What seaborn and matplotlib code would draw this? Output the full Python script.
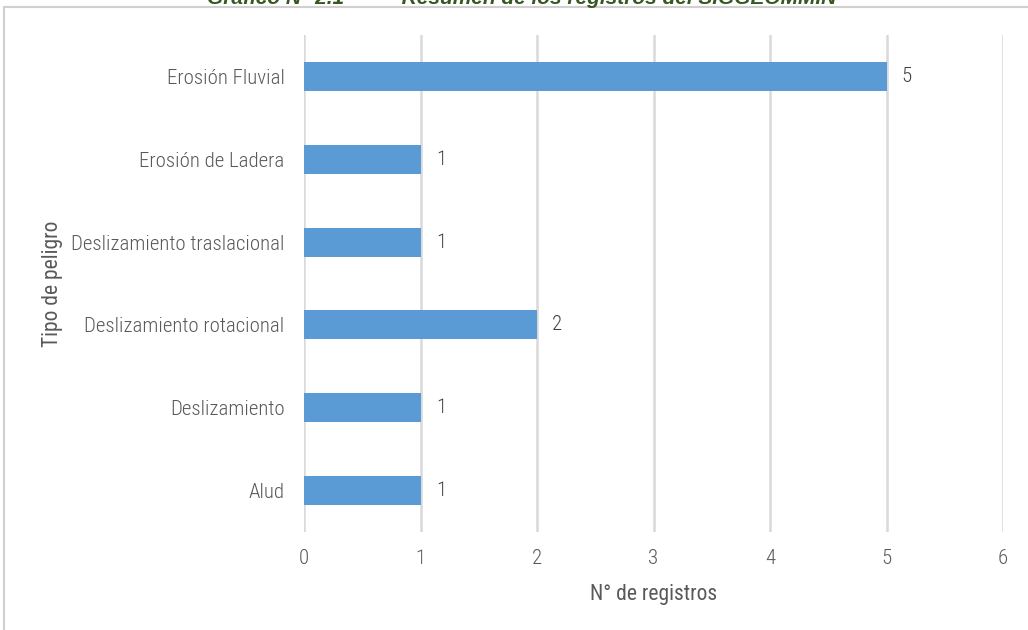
import matplotlib
matplotlib.use("Agg")
import matplotlib.pyplot as plt
from matplotlib.patches import Rectangle
from matplotlib import font_manager
import seaborn as sns
import pandas as pd

categories = ["Erosión Fluvial", "Erosión de Ladera", "Deslizamiento traslacional",
              "Deslizamiento rotacional", "Deslizamiento", "Alud"]
counts = [5, 1, 1, 2, 1, 1]
x_ticks = [0, 1, 2, 3, 4, 5, 6]

title_text = "Gráfico N° 2.1          Resumen de los registros del SIGGEOMMIN"
x_label = "N° de registros"
y_label = "Tipo de peligro"

df = pd.DataFrame({"tipo": categories, "registros": counts})

sns.set_theme(style="white")
names = {f.name for f in font_manager.fontManager.ttflist}
narrow = "Liberation Sans Narrow" if "Liberation Sans Narrow" in names else "Roboto Condensed"
plt.rcParams["font.family"] = [narrow, "Liberation Sans", "DejaVu Sans"]
plt.rcParams["font.weight"] = "light"

text_grey = "#595959"
grid_grey = "#d9d9d9"
bar_blue = "#5b9bd5"

fig = plt.figure(figsize=(10.28, 6.3), dpi=100)
ax = fig.add_axes([304 / 1028, 1 - 532 / 630, (1003 - 304) / 1028, (532 - 35) / 630])

sns.barplot(data=df, x="registros", y="tipo", order=categories, color=bar_blue,
            width=0.35, saturation=1, ax=ax, zorder=3, linewidth=0)

ax.set_xlim(0, 6)
ax.set_ylim(len(categories) - 0.5, -0.5)
ax.set_xticks(x_ticks)
ax.set_xticklabels([str(t) for t in x_ticks])
ax.xaxis.grid(True, color=grid_grey, linewidth=1.8, zorder=0)
ax.yaxis.grid(False)
for s in ax.spines.values():
    s.set_visible(False)
ax.tick_params(axis="both", length=0, labelsize=15, labelcolor=text_grey)
ax.tick_params(axis="x", pad=12)
ax.tick_params(axis="y", pad=14)

ax.set_xlabel(x_label, fontsize=15.5, color=text_grey, labelpad=12)
ax.set_ylabel(y_label, fontsize=15.5, color=text_grey, labelpad=6)

for i, v in enumerate(counts):
    ax.annotate(str(v), xy=(v, i), xytext=(11, 0), textcoords="offset points",
                va="center", ha="left", fontsize=15, color="#404040")

# chart area border
fig.patches.append(Rectangle((4 / 1028, -0.1), 1.1, 1 - 7 / 630 + 0.1,
                             transform=fig.transFigure, fill=False,
                             edgecolor="#d0d0d0", linewidth=1.5, zorder=0))

# caption sitting above the chart area
fig.text(522 / 1028, 1 + 2 / 630, title_text, ha="center", va="center",
         fontsize=15, fontweight="bold", fontstyle="italic", color="#385723",
         family=["Liberation Sans", "DejaVu Sans"])

fig.savefig("out.png", dpi=100)
